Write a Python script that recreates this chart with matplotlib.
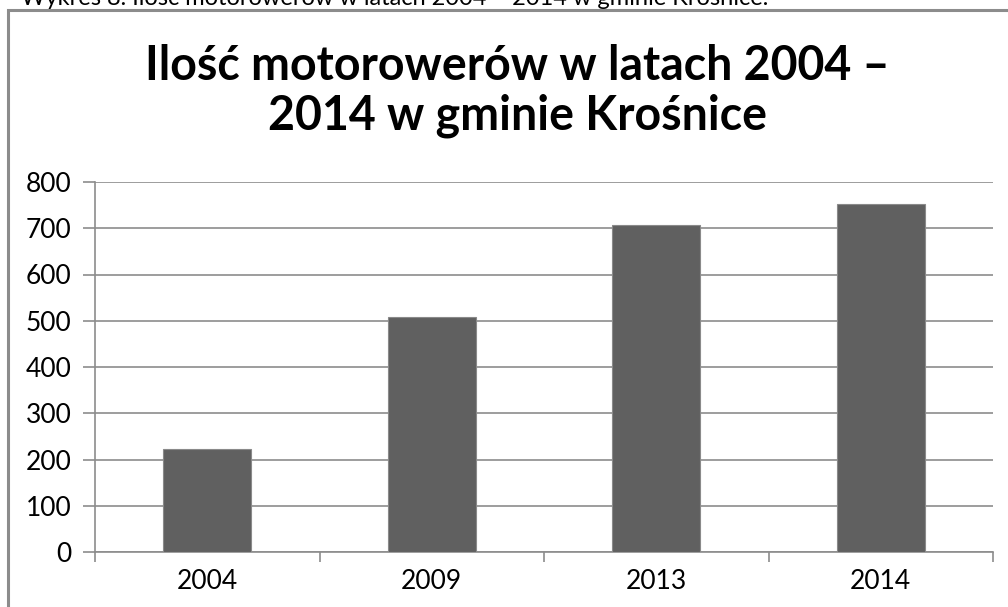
import matplotlib
matplotlib.use("Agg")
import matplotlib.pyplot as plt
from matplotlib.patches import Rectangle

years = ["2004", "2009", "2013", "2014"]
counts = [223, 508, 706, 752]
yticks = [0, 100, 200, 300, 400, 500, 600, 700, 800]
title = "Ilość motorowerów w latach 2004 –\n2014 w gminie Krośnice"
caption = "Wykres 8. Ilość motorowerów w latach 2004 – 2014 w gminie Krośnice."

W, H = 1008, 607
fig = plt.figure(figsize=(W / 100, H / 100), dpi=100)
plt.rcParams['font.family'] = ['Lato', 'DejaVu Sans']

# caption cut at top of page
fig.text(768 / W, 1 - 5 / H, caption, ha='right', va='baseline', fontsize=17, color='black')

# chart frame
fig.patches.append(Rectangle((8 / W, -0.1), 1.2, 1 - 10 / H + 0.1, transform=fig.transFigure,
                             fill=False, edgecolor='#8c8c8c', linewidth=2.2))

ax = fig.add_axes([95 / W, 1 - 552 / H, (993 - 95) / W, (552 - 182) / H])
x = list(range(len(years)))
ax.bar(x, counts, width=0.39, color='#606060', edgecolor='#8a8a8a', linewidth=0.8, zorder=3)
ax.set_xlim(-0.5, len(years) - 0.5)
ax.set_ylim(0, 800)
ax.set_yticks(yticks)
ax.set_yticklabels([str(v) for v in yticks])
ax.set_xticks(x)
ax.set_xticklabels(years)
ax.set_xticks([i - 0.5 for i in range(len(years) + 1)], minor=True)
ax.tick_params(axis='x', which='major', length=0, pad=12, labelsize=19, colors='black')
ax.tick_params(axis='x', which='minor', length=7, width=1.2, color='#8c8c8c', direction='out')
ax.tick_params(axis='y', length=9, width=1.2, color='#8c8c8c', pad=8, labelsize=19, labelcolor='black')
ax.yaxis.grid(True, color='#8c8c8c', linewidth=1.2, zorder=0)
ax.set_axisbelow(True)
for s in ['top', 'right']:
    ax.spines[s].set_visible(False)
for s in ['left', 'bottom']:
    ax.spines[s].set_color('#8c8c8c')
    ax.spines[s].set_linewidth(1.2)

fig.text(0.5 * (148 + 887) / W, 1 - 130 / H, title, ha='center', va='baseline',
         fontsize=33.5, fontweight='bold', linespacing=1.17, color='black')

fig.savefig("out.png", dpi=100)
